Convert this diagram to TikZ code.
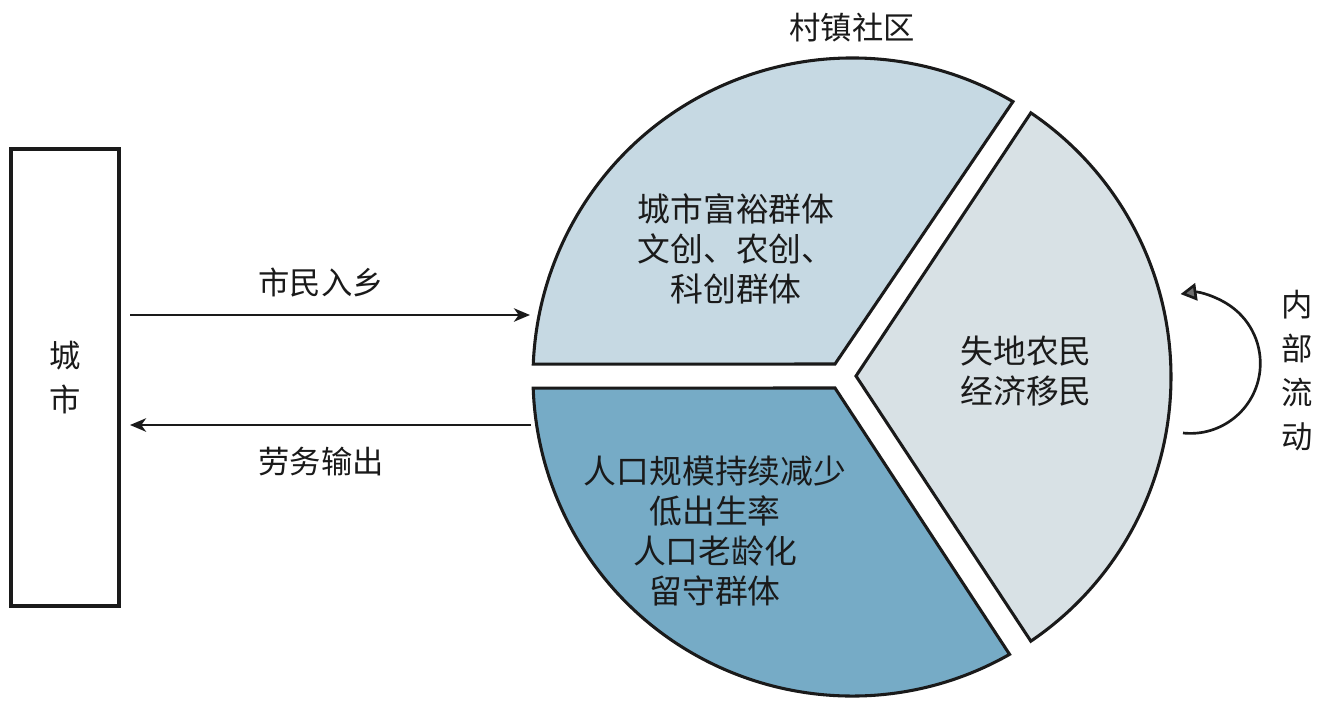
\documentclass[tikz,border=0pt]{standalone}
\usepackage{fontspec}
\newfontfamily\cjk{Noto Sans CJK SC}
\usetikzlibrary{arrows.meta}
\definecolor{pieA}{HTML}{C6D9E3}
\definecolor{pieB}{HTML}{D8E1E5}
\definecolor{pieC}{HTML}{76ABC6}
\definecolor{ink}{HTML}{1A1A1A}
\definecolor{tipgray}{HTML}{6E6E6E}
\begin{document}
\begin{tikzpicture}[x=0.75pt,y=0.75pt,
  lbl/.style={font=\cjk\fontsize{23.5}{30}\selectfont, text=ink, inner sep=0pt, align=center},
  plbl/.style={font=\cjk\fontsize{24.6}{30}\selectfont, text=ink, inner sep=0pt, align=center},
  vlbl/.style={font=\cjk\fontsize{23.5}{33.5}\selectfont, text=ink, inner sep=0pt, align=center},
  piece/.style={draw=ink, line width=2.3pt, line join=miter},
  arr/.style={draw=ink, line width=2pt, -{Stealth[length=12pt,width=10pt,inset=3.5pt]}},
  flowarr/.style={draw=ink, line width=2pt, -{Triangle[length=12pt,width=13pt,fill=tipgray]}},
  box/.style={draw=ink, line width=2.3pt, minimum width=81pt, minimum height=342.75pt, inner sep=0pt}
  ]
\useasboundingbox (0,0) rectangle (1317,-700);
\coordinate (C) at (852,-377);
% pie pieces
\draw[piece, fill=pieA] (835,-364) -- ([shift={(59.7:319)}]C) arc[start angle=59.7, end angle=177.7, radius=239.25pt] -- cycle;
\draw[piece, fill=pieB] (856,-376) -- ([shift={(55.9:319)}]C) arc[start angle=55.9, end angle=-55.9, radius=239.25pt] -- cycle;
\draw[piece, fill=pieC] (835,-388) -- ([shift={(-60.4:319)}]C) arc[start angle=-60.4, end angle=-178, radius=239.25pt] -- cycle;
% texts in pie
\node[plbl] (t1) at (736,-249) {城市富裕群体\\文创、农创、\\科创群体};
\node[plbl] (t2) at (1026,-371) {失地农民\\经济移民};
\node[plbl] (t3) at (715,-531) {人口规模持续减少\\低出生率\\人口老龄化\\留守群体};
\node[lbl] (village) at (852,-28) {村镇社区};
% city
\node[box, vlbl] (city) at (65,-377.5) {城\\市};
% arrows
\coordinate (a1s) at (130,-315);
\coordinate (a1e) at (530,-315);
\draw[arr] (a1s) -- (a1e);
\node[lbl] (l1) at (321,-283) {市民入乡};
\coordinate (a2s) at (531,-425);
\coordinate (a2e) at (130,-425);
\draw[arr] (a2s) -- (a2e);
\node[lbl] (l2) at (321,-462) {劳务输出};
% internal flow
\coordinate (fs) at (1183,-433);
\draw[flowarr] (fs) arc[start angle=-96, end angle=98, radius=52.5pt];
\node[vlbl, font=\cjk\fontsize{23.5}{33}\selectfont] (flow) at (1297,-371) {内\\部\\流\\动};
\end{tikzpicture}
\end{document}
